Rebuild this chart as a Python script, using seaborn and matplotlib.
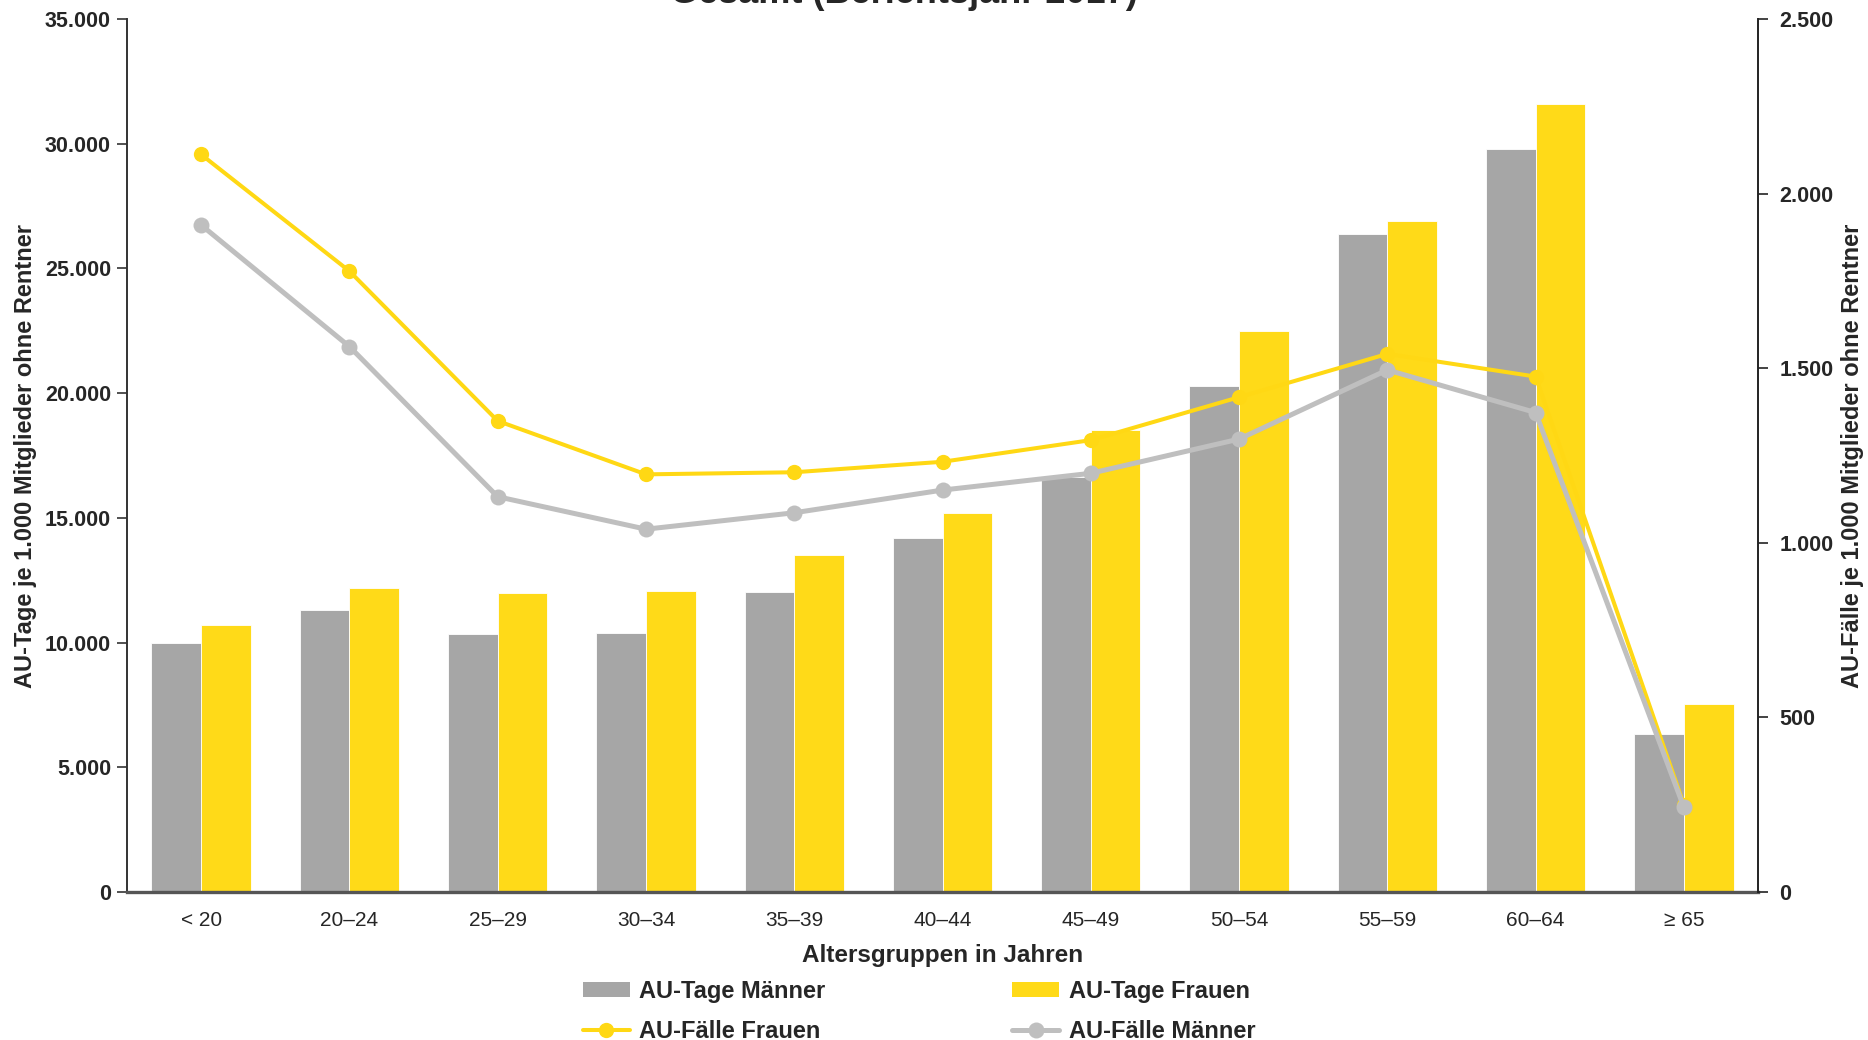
import numpy as np
import pandas as pd
import matplotlib
matplotlib.use("Agg")
import matplotlib.pyplot as plt
import seaborn as sns
from matplotlib.ticker import FuncFormatter, MultipleLocator
from matplotlib.patches import Patch
from matplotlib.lines import Line2D

# Altersgruppen und Kennzahlen je 1.000 Mitglieder ohne Rentner
altersgruppen = ["< 20", "20–24", "25–29", "30–34", "35–39", "40–44",
                 "45–49", "50–54", "55–59", "60–64", "≥ 65"]
au_tage_maenner = [10000, 11290, 10360, 10370, 12010, 14200,
                   16650, 20290, 26380, 29780, 6320]
au_tage_frauen = [10720, 12200, 11970, 12070, 13500, 15180,
                  18520, 22480, 26890, 31580, 7540]
au_faelle_frauen = [2112, 1778, 1349, 1196, 1202, 1232,
                    1294, 1417, 1541, 1476, 250]
au_faelle_maenner = [1910, 1562, 1132, 1039, 1086, 1151,
                     1199, 1297, 1495, 1373, 243]

titel = "Gesamt (Berichtsjahr 2017)"
x_titel = "Altersgruppen in Jahren"
y_titel_links = "AU-Tage je 1.000 Mitglieder ohne Rentner"
y_titel_rechts = "AU-Fälle je 1.000 Mitglieder ohne Rentner"

GRAU_BALKEN = "#A6A6A6"
GELB_BALKEN = "#FFDA18"
GRAU_LINIE = "#BFBFBF"
GELB_LINIE = "#FFD814"

sns.set_theme(style="white")
plt.rcParams["font.family"] = ["Liberation Sans", "DejaVu Sans"]

fig = plt.figure(figsize=(18.68, 10.40), dpi=100)
ax = fig.add_axes([127 / 1868, 1 - 892 / 1040, (1758 - 127) / 1868, (892 - 19) / 1040])

balken = pd.DataFrame({
    "Altersgruppe": altersgruppen * 2,
    "Wert": au_tage_maenner + au_tage_frauen,
    "Serie": ["AU-Tage Männer"] * len(altersgruppen) + ["AU-Tage Frauen"] * len(altersgruppen),
})
sns.barplot(data=balken, x="Altersgruppe", y="Wert", hue="Serie",
            palette=[GRAU_BALKEN, GELB_BALKEN], saturation=1, width=0.67,
            edgecolor="white", linewidth=0.6, legend=False, ax=ax)

ax.set_xlim(-0.5, len(altersgruppen) - 0.5)
ax.set_ylim(0, 35000)
ax.yaxis.set_major_locator(MultipleLocator(5000))
tausender = FuncFormatter(lambda v, _: f"{v:,.0f}".replace(",", "."))
ax.yaxis.set_major_formatter(tausender)

ax2 = ax.twinx()
pos = np.arange(len(altersgruppen))
sns.lineplot(x=pos, y=au_faelle_frauen, color=GELB_LINIE, linewidth=2.9,
             marker="o", markersize=11, markeredgewidth=0, ax=ax2)
sns.lineplot(x=pos, y=au_faelle_maenner, color=GRAU_LINIE, linewidth=3.6,
             marker="o", markersize=11.5, markeredgewidth=0, ax=ax2)
ax2.set_ylim(0, 2500)
ax2.yaxis.set_major_locator(MultipleLocator(500))
ax2.yaxis.set_major_formatter(tausender)
ax2.set_xlim(-0.5, len(altersgruppen) - 0.5)

# Achsen und Beschriftungen
for s in ("top", "right"):
    ax.spines[s].set_visible(False)
for s in ("top", "left", "bottom"):
    ax2.spines[s].set_visible(False)
ax.spines["left"].set_color("#333333")
ax.spines["left"].set_linewidth(1.4)
ax.spines["bottom"].set_color("#555555")
ax.spines["bottom"].set_linewidth(2.4)
ax2.spines["right"].set_color("#222222")
ax2.spines["right"].set_linewidth(1.4)

ax.tick_params(axis="y", left=True, direction="out", length=7, width=1.2,
               color="#333333", pad=4.5, labelsize=15.5)
ax.tick_params(axis="x", length=0, pad=14, labelsize=15)
ax2.tick_params(axis="y", right=True, direction="out", length=7, width=1.2,
                color="#222222", pad=8.5, labelsize=15.5)
for lab in ax.get_yticklabels() + ax2.get_yticklabels():
    lab.set_fontweight("bold")

ax.set_xlabel(x_titel, fontsize=17.5, fontweight="bold")
ax.xaxis.set_label_coords(0.5, -0.060)
ax.set_ylabel(y_titel_links, fontsize=17, fontweight="bold")
ax.yaxis.set_label_coords(-0.055, 0.5)
ax2.set_ylabel(y_titel_rechts, fontsize=17, fontweight="bold", rotation=90)
ax2.yaxis.set_label_coords(1.051, 0.5)

fig.text(904 / 1868, 1 - 3 / 1040, titel, ha="center", va="baseline",
         fontsize=26, fontweight="bold")

handles = [
    Patch(facecolor=GRAU_BALKEN, edgecolor="none"),
    Line2D([], [], color=GELB_LINIE, linewidth=2.9, marker="o", markersize=11, markeredgewidth=0),
    Patch(facecolor=GELB_BALKEN, edgecolor="none"),
    Line2D([], [], color=GRAU_LINIE, linewidth=3.6, marker="o", markersize=11.5, markeredgewidth=0),
]
labels = ["AU-Tage Männer", "AU-Fälle Frauen", "AU-Tage Frauen", "AU-Fälle Männer"]
fig.legend(handles, labels, ncol=2, loc="center", bbox_to_anchor=(0.492, 0.0275),
           frameon=False, borderpad=0, handlelength=2.0, handleheight=0.6,
           handletextpad=0.4, labelspacing=0.72, columnspacing=7.9,
           prop={"size": 17, "weight": "bold"})

fig.savefig("out.png", dpi=100)
